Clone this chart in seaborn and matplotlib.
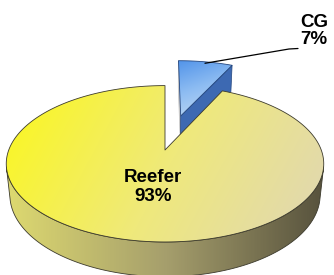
import numpy as np
import matplotlib
matplotlib.use('Agg')
import matplotlib.pyplot as plt
import seaborn as sns
from matplotlib.colors import LinearSegmentedColormap
from matplotlib.patches import Polygon

# data
categories = ['CG', 'Reefer']
shares = [7, 93]
explode = [0.5, 0.0]
labels = ['CG\n7%', 'Reefer\n93%']

sns.set_theme(style='white')
plt.rcParams['font.family'] = ['Liberation Sans', 'DejaVu Sans']

# simple perspective camera for the "3d" pie
W, H = 334, 275
CX, CY = 165, 150
FOC = 775
DIST = 4.96
TILT = np.radians(29)
THICK = 0.23
CAM = np.array([0.0, -DIST * np.cos(TILT), DIST * np.sin(TILT)])


def project(X, Y, Z):
    X, Y, Z = np.broadcast_arrays(X, Y, Z)
    yc = Y * np.sin(TILT) + Z * np.cos(TILT)
    zc = DIST + Y * np.cos(TILT) - Z * np.sin(TILT)
    return np.column_stack([CX + FOC * X / zc, CY - FOC * yc / zc])


def grad_fill(ax, pts, colors, p0, p1, edge=None, lw=0.7):
    poly = Polygon(pts, closed=True, facecolor='none', edgecolor='none')
    ax.add_patch(poly)
    cmap = LinearSegmentedColormap.from_list('g', colors)
    x0, y0 = pts.min(axis=0) - 1
    x1, y1 = pts.max(axis=0) + 1
    xs, ys = np.meshgrid(np.linspace(x0, x1, 300), np.linspace(y0, y1, 300))
    d = np.array(p1, float) - np.array(p0, float)
    t = ((xs - p0[0]) * d[0] + (ys - p0[1]) * d[1]) / (d @ d)
    im = ax.imshow(np.clip(t, 0, 1), cmap=cmap, vmin=0, vmax=1,
                   extent=(x0, x1, y1, y0), origin='upper',
                   interpolation='bilinear', zorder=poly.get_zorder())
    im.set_clip_path(poly)
    if edge is not None:
        ax.add_patch(Polygon(pts, closed=True, facecolor='none',
                             edgecolor=edge, lw=lw, joinstyle='round'))


fig = plt.figure(figsize=(3.34, 2.75), dpi=100)
ax = fig.add_axes([0, 0, 1, 1])

top_cols = {'CG': ['#5596ea', '#8dbcf2', '#bcd7f3'],
            'Reefer': ['#f9f52e', '#efe97c', '#e2d9ad']}
top_dirs = {'CG': ((180, 62), (200, 118)), 'Reefer': ((40, 95), (300, 235))}
wall_cols = ['#e0dc70', '#a59e6c', '#524d3a']
edge_col = {'CG': '#24467e', 'Reefer': '#3c3a2c'}

fracs = np.array(shares) / sum(shares)
start = 90.0
for name, frac, ex in zip(categories, fracs, explode):
    a = start
    b = start - 360 * frac
    start = b
    m = np.radians((a + b) / 2)
    ox, oy = ex * np.cos(m), ex * np.sin(m)
    th = np.radians(np.linspace(b, a, 400))

    # radial cut faces
    for ang, sgn in ((a, 1), (b, -1)):
        r = np.radians(ang)
        nrm = np.array([np.cos(r + sgn * np.pi / 2), np.sin(r + sgn * np.pi / 2), 0])
        mid = np.array([ox + 0.5 * np.cos(r), oy + 0.5 * np.sin(r), -THICK / 2])
        if nrm @ (CAM - mid) > 0.02:
            X = ox + np.array([0, np.cos(r), np.cos(r), 0])
            Y = oy + np.array([0, np.sin(r), np.sin(r), 0])
            Z = np.array([0, 0, -THICK, -THICK])
            col = '#3d69b2' if sgn < 0 else '#c4c4c4'
            if name == 'Reefer':
                col = '#b8b060'
            ax.add_patch(Polygon(project(X, Y, Z), closed=True, facecolor=col,
                                 edgecolor=edge_col[name] if sgn < 0 else col, lw=0.5))

    # outer wall, only the part turned to the viewer
    vis = np.sin(th) < -1 / (DIST * np.cos(TILT))
    if vis.any():
        tv = th[vis]
        tv = np.concatenate([[tv[0] - 0.03], tv, [tv[-1] + 0.03]])
        topp = project(ox + np.cos(tv), oy + np.sin(tv), 0)
        botp = project(ox + np.cos(tv), oy + np.sin(tv), -THICK)
        wall = np.vstack([topp, botp[::-1]])
        grad_fill(ax, wall, wall_cols, (0, 0), (W, 0), edge='#3c3a2c', lw=0.6)

    # top face
    X = np.concatenate([[ox], ox + np.cos(th)])
    Y = np.concatenate([[oy], oy + np.sin(th)])
    pts = project(X, Y, 0)
    p0, p1 = top_dirs[name]
    grad_fill(ax, pts, top_cols[name], p0, p1, edge=edge_col[name], lw=0.6)

# labels
fs = 13.5
ax.text(153, 187, labels[1], ha='center', va='center', fontsize=fs,
        fontweight='bold', color='black', linespacing=1.15)
ax.text(314, 31, labels[0], ha='center', va='center', fontsize=fs,
        fontweight='bold', color='black', linespacing=1.05)
cg_mid = np.radians(90 - 180 * fracs[0])
cgx, cgy = explode[0] * np.cos(cg_mid), explode[0] * np.sin(cg_mid)
lead = project(cgx + 0.97 * np.cos(cg_mid), cgy + 0.97 * np.sin(cg_mid), 0)[0]
ax.plot([lead[0], 289, 298], [lead[1], 49, 48.5], color='black', lw=0.9)

ax.set_xlim(0, W)
ax.set_ylim(H, 0)
ax.set_aspect('auto')
ax.axis('off')
fig.savefig('out.png', dpi=100)
